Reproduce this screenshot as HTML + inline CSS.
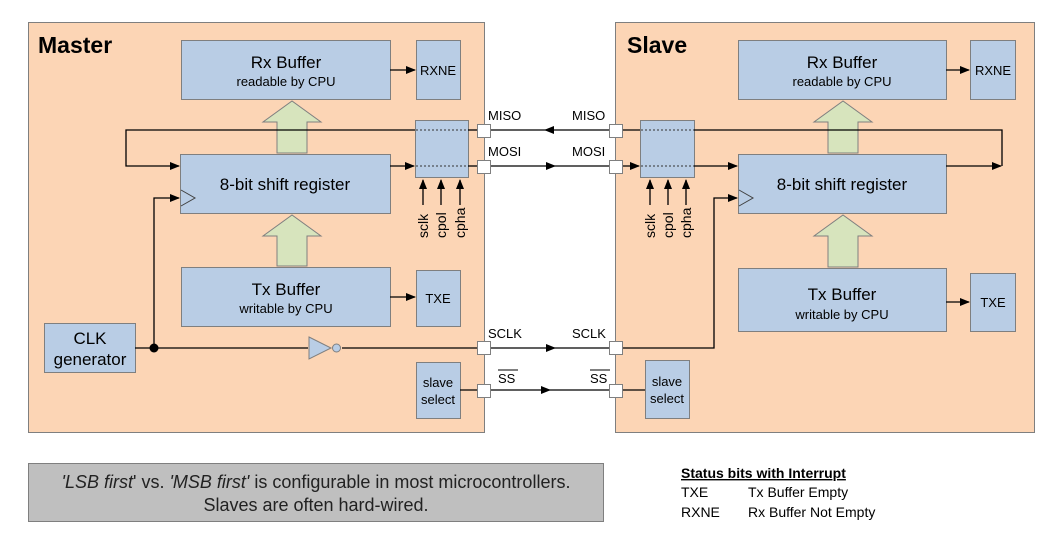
<!DOCTYPE html>
<html><head><meta charset="utf-8"><style>
html,body{margin:0;padding:0;background:#fff;}
svg{display:block;font-family:"Liberation Sans",Arial,sans-serif;}
</style></head><body>
<svg width="1051" height="543" viewBox="0 0 1051 543" xmlns="http://www.w3.org/2000/svg">
<defs>
<marker id="a" markerWidth="10" markerHeight="8" refX="9" refY="4" orient="auto" markerUnits="userSpaceOnUse"><path d="M0,0 L10,4 L0,8 z" fill="#000"/></marker>
</defs>
<rect x="28.5" y="22.5" width="456" height="410" fill="#fcd5b5" stroke="#7f7f7f"/>
<rect x="615.5" y="22.5" width="419" height="410" fill="#fcd5b5" stroke="#7f7f7f"/>
<text x="38" y="53" font-size="23" font-weight="bold">Master</text>
<text x="627" y="53" font-size="23" font-weight="bold">Slave</text>

<g fill="#b9cde5" stroke="#7f7f7f">
<rect x="181.5" y="40.5" width="209" height="59"/>
<rect x="416.5" y="40.5" width="44" height="59"/>
<rect x="180.5" y="154.5" width="210" height="59"/>
<rect x="415.5" y="120.5" width="53" height="57"/>
<rect x="181.5" y="267.5" width="209" height="59"/>
<rect x="416.5" y="270.5" width="44" height="56"/>
<rect x="44.5" y="323.5" width="91" height="49"/>
<rect x="416.5" y="362.5" width="44" height="56"/>
<rect x="738.5" y="40.5" width="208" height="59"/>
<rect x="970.5" y="40.5" width="45" height="59"/>
<rect x="738.5" y="154.5" width="208" height="59"/>
<rect x="640.5" y="120.5" width="54" height="57"/>
<rect x="738.5" y="268.5" width="208" height="63"/>
<rect x="970.5" y="273.5" width="45" height="58"/>
<rect x="645.5" y="360.5" width="44" height="58"/>
</g>
<path d="M181,190 L195,198 L181,206" fill="none" stroke="#404040"/>
<path d="M739,190 L753,198 L739,206" fill="none" stroke="#404040"/>
<g stroke="#333" stroke-dasharray="2,2">
<line x1="416" y1="130" x2="468" y2="130"/><line x1="416" y1="166" x2="468" y2="166"/>
<line x1="641" y1="130" x2="694" y2="130"/><line x1="641" y1="166" x2="694" y2="166"/>
</g>
<g fill="#d7e4bd" stroke="#7f7f7f">
<path d="M277,153 L277,122 L263,122 L292,101 L321,122 L307,122 L307,153 z"/>
<path d="M277,266 L277,236 L263,236 L292,215 L321,236 L307,236 L307,266 z"/>
<path d="M828,153 L828,122 L814,122 L843,101 L872,122 L858,122 L858,153 z"/>
<path d="M828,267 L828,236 L814,236 L843,215 L872,236 L858,236 L858,267 z"/>
</g>
<g stroke="#000" stroke-width="1.3" fill="none">
<line x1="390" y1="70" x2="415" y2="70" marker-end="url(#a)"/>
<line x1="390" y1="297" x2="415" y2="297" marker-end="url(#a)"/>
<line x1="946" y1="70" x2="969" y2="70" marker-end="url(#a)"/>
<line x1="946" y1="302" x2="969" y2="302" marker-end="url(#a)"/>
<path d="M415,130 L126,130 L126,166 L179,166" marker-end="url(#a)"/>
<line x1="390" y1="166" x2="414" y2="166" marker-end="url(#a)"/>
<line x1="468" y1="130" x2="477" y2="130"/>
<line x1="468" y1="166" x2="477" y2="166"/>
<line x1="609" y1="130" x2="545" y2="130" marker-end="url(#a)"/>
<line x1="545" y1="130" x2="490" y2="130"/>
<line x1="490" y1="166" x2="555" y2="166" marker-end="url(#a)"/>
<line x1="555" y1="166" x2="609" y2="166"/>
<line x1="622" y1="130" x2="640" y2="130"/>
<line x1="622" y1="166" x2="639" y2="166" marker-end="url(#a)"/>
<line x1="694" y1="166" x2="737" y2="166" marker-end="url(#a)"/>
<path d="M694,130 L1002,130 L1002,166"/>
<line x1="946" y1="166" x2="1001" y2="166" marker-end="url(#a)"/>
<line x1="135" y1="348" x2="308" y2="348"/>
<line x1="342" y1="348" x2="477" y2="348"/>
<path d="M154,348 L154,198 L179,198" marker-end="url(#a)"/>
<line x1="490" y1="348" x2="555" y2="348" marker-end="url(#a)"/>
<line x1="555" y1="348" x2="609" y2="348"/>
<path d="M622,348 L714,348 L714,198 L737,198" marker-end="url(#a)"/>
<line x1="460" y1="390" x2="477" y2="390"/>
<line x1="490" y1="390" x2="550" y2="390" marker-end="url(#a)"/>
<line x1="550" y1="390" x2="609" y2="390"/>
<line x1="622" y1="390" x2="645" y2="390"/>
<line x1="423" y1="205" x2="423" y2="180" marker-end="url(#a)"/>
<line x1="441" y1="205" x2="441" y2="180" marker-end="url(#a)"/>
<line x1="460" y1="205" x2="460" y2="180" marker-end="url(#a)"/>
<line x1="650" y1="205" x2="650" y2="180" marker-end="url(#a)"/>
<line x1="668" y1="205" x2="668" y2="180" marker-end="url(#a)"/>
<line x1="686" y1="205" x2="686" y2="180" marker-end="url(#a)"/>
</g>
<circle cx="154" cy="348" r="4.5" fill="#000"/>
<path d="M309,337 L331,348 L309,359 z" fill="#b9cde5" stroke="#7f7f7f"/>
<circle cx="336.5" cy="348" r="4" fill="#b9cde5" stroke="#7f7f7f"/>
<g fill="#fff" stroke="#7f7f7f">
<rect x="477.5" y="124.5" width="13" height="13"/><rect x="477.5" y="160.5" width="13" height="13"/>
<rect x="477.5" y="341.5" width="13" height="13"/><rect x="477.5" y="384.5" width="13" height="13"/>
<rect x="609.5" y="124.5" width="13" height="13"/><rect x="609.5" y="160.5" width="13" height="13"/>
<rect x="609.5" y="341.5" width="13" height="13"/><rect x="609.5" y="384.5" width="13" height="13"/>
</g>
<g text-anchor="middle" fill="#000">
<text x="286" y="68" font-size="17">Rx Buffer</text>
<text x="286" y="86" font-size="13">readable by CPU</text>
<text x="438" y="75" font-size="13">RXNE</text>
<text x="285" y="190" font-size="17">8-bit shift register</text>
<text x="286" y="295" font-size="17">Tx Buffer</text>
<text x="286" y="313" font-size="13">writable by CPU</text>
<text x="438" y="303" font-size="13">TXE</text>
<text x="90" y="344" font-size="17">CLK</text>
<text x="90" y="365" font-size="17">generator</text>
<text x="438" y="387" font-size="13">slave</text>
<text x="438" y="404" font-size="13">select</text>
<text x="842" y="68" font-size="17">Rx Buffer</text>
<text x="842" y="86" font-size="13">readable by CPU</text>
<text x="993" y="75" font-size="13">RXNE</text>
<text x="842" y="190" font-size="17">8-bit shift register</text>
<text x="842" y="300" font-size="17">Tx Buffer</text>
<text x="842" y="319" font-size="13">writable by CPU</text>
<text x="993" y="307" font-size="13">TXE</text>
<text x="667" y="386" font-size="13">slave</text>
<text x="667" y="403" font-size="13">select</text>
</g>
<g font-size="13">
<text x="488" y="120">MISO</text><text x="572" y="120">MISO</text>
<text x="488" y="156">MOSI</text><text x="572" y="156">MOSI</text>
<text x="488" y="338">SCLK</text><text x="572" y="338">SCLK</text>
<text x="498" y="383">SS</text><text x="590" y="383">SS</text>
</g>
<line x1="498" y1="370" x2="518" y2="370" stroke="#000"/>
<line x1="590" y1="370" x2="610" y2="370" stroke="#000"/>
<g font-size="14">
<text transform="translate(428,238) rotate(-90)">sclk</text>
<text transform="translate(446,238) rotate(-90)">cpol</text>
<text transform="translate(465,238) rotate(-90)">cpha</text>
<text transform="translate(655,238) rotate(-90)">sclk</text>
<text transform="translate(673,238) rotate(-90)">cpol</text>
<text transform="translate(691,238) rotate(-90)">cpha</text>
</g>
<rect x="28.5" y="463.5" width="575" height="58" fill="#bfbfbf" stroke="#7f7f7f"/>
<text x="316" y="488" font-size="18" text-anchor="middle" fill="#222"><tspan font-style="italic">'LSB first</tspan>' vs. <tspan font-style="italic">'MSB first'</tspan> is configurable in most microcontrollers.</text>
<text x="316" y="511" font-size="18" text-anchor="middle" fill="#222">Slaves are often hard-wired.</text>
<text x="681" y="478" font-size="14" font-weight="bold" text-decoration="underline">Status bits with Interrupt</text>
<text x="681" y="497" font-size="14">TXE</text><text x="748" y="497" font-size="14">Tx Buffer Empty</text>
<text x="681" y="517" font-size="14">RXNE</text><text x="748" y="517" font-size="14">Rx Buffer Not Empty</text>
</svg>
</body></html>
